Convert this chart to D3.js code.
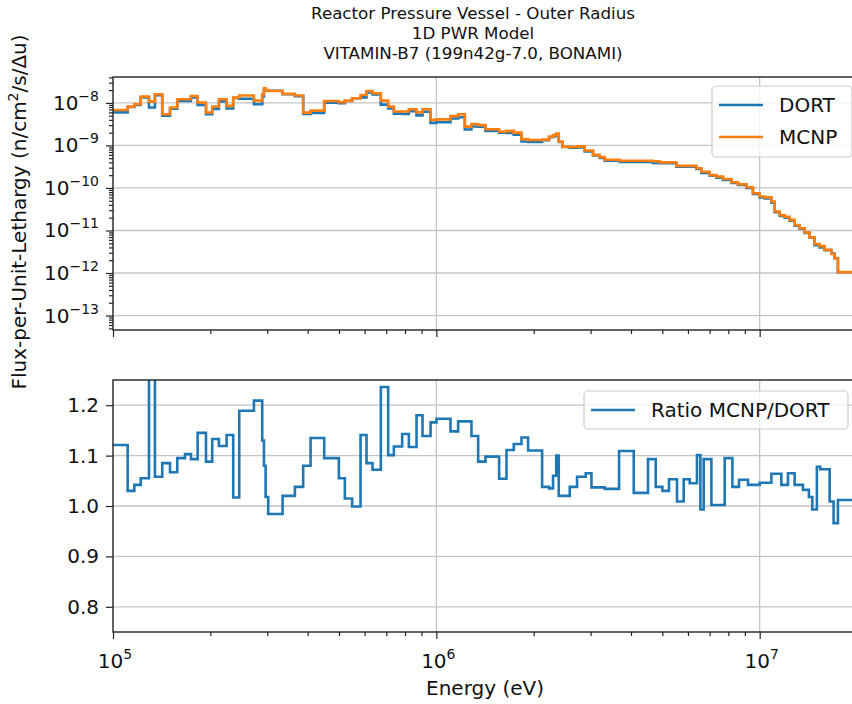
<!DOCTYPE html>
<html><head><meta charset="utf-8">
<script src="https://cdn.jsdelivr.net/npm/d3@7/dist/d3.min.js"></script>
<style>body{margin:0;background:#fff} text{font-family:"DejaVu Sans",sans-serif;fill:#111}</style>
</head><body><svg id="c" width="852" height="704"></svg>
<script>
// ---------------- data ----------------
const titleLines = ["Reactor Pressure Vessel - Outer Radius", "1D PWR Model", "VITAMIN-B7 (199n42g-7.0, BONAMI)"];
const yLabelMain = "Flux-per-Unit-Lethargy (n/cm";
const yLabelSup = "2";
const yLabelTail = "/s/\u0394u)";
const xLabel = "Energy (eV)";
const seriesNames = ["DORT", "MCNP"];
const ratioName = "Ratio MCNP/DORT";

const fluxEdges = [1.00e5, 1.110e5, 1.164e5, 1.218e5, 1.292e5, 1.348e5, 1.420e5, 1.501e5, 1.580e5, 1.670e5,
  1.742e5, 1.827e5, 1.939e5, 2.027e5, 2.126e5, 2.246e5, 2.354e5, 2.457e5, 2.728e5, 2.894e5,
  2.930e5, 2.965e5, 3.020e5, 3.346e5, 3.652e5, 3.874e5, 4.084e5, 4.500e5, 4.995e5, 5.213e5,
  5.491e5, 5.829e5, 6.083e5, 6.349e5, 6.735e5, 7.096e5, 7.390e5, 7.840e5, 8.222e5, 8.685e5,
  9.064e5, 9.597e5, 1.001e6, 1.106e6, 1.168e6, 1.225e6, 1.284e6, 1.347e6, 1.419e6, 1.564e6,
  1.648e6, 1.736e6, 1.834e6, 1.922e6, 2.124e6, 2.232e6, 2.296e6, 2.349e6, 2.391e6, 2.455e6,
  2.586e6, 2.724e6, 2.877e6, 3.052e6, 3.202e6, 3.318e6, 3.692e6, 4.669e6, 4.908e6, 5.526e6,
  6.372e6, 6.603e6, 7.005e6, 7.346e6, 7.702e6, 8.177e6, 8.570e6, 9.097e6, 9.535e6, 1.000e7,
  1.036e7, 1.087e7, 1.113e7, 1.153e7, 1.195e7, 1.238e7, 1.283e7, 1.329e7, 1.377e7, 1.427e7,
  1.479e7, 1.532e7, 1.588e7, 1.666e7, 1.705e7, 1.746e7, 2.0e7];

const mcnpFlux = [6.8e-9, 8.2e-9, 9.3e-9, 1.41e-8, 1.07e-8, 1.6e-8, 5.4e-9, 7.8e-9, 1.22e-8, 1.22e-8,
  1.46e-8, 1.02e-8, 5.9e-9, 8.2e-9, 1.22e-8, 8.5e-9, 1.33e-8, 1.49e-8, 1.13e-8, 1.6e-8,
  2.2e-8, 2.0e-8, 1.91e-8, 1.63e-8, 1.49e-8, 5.9e-9, 6.6e-9, 1.11e-8, 1.04e-8, 1.13e-8,
  1.29e-8, 1.54e-8, 1.91e-8, 1.69e-8, 1.13e-8, 8.2e-9, 6.3e-9, 6.3e-9, 7.1e-9, 6.0e-9,
  7.1e-9, 4.0e-9, 4.1e-9, 4.9e-9, 5.4e-9, 2.77e-9, 3.2e-9, 3.0e-9, 2.4e-9, 2.1e-9,
  2.2e-9, 2.0e-9, 1.41e-9, 1.34e-9, 1.37e-9, 1.61e-9, 1.75e-9, 1.9e-9, 1.23e-9, 9.4e-10,
  9.2e-10, 9.5e-10, 7.6e-10, 6.0e-10, 5.3e-10, 4.6e-10, 4.35e-10, 4.25e-10, 4.0e-10, 3.3e-10,
  2.9e-10, 2.4e-10, 2.0e-10, 1.85e-10, 1.63e-10, 1.36e-10, 1.22e-10, 1.04e-10, 7.5e-11, 6.3e-11,
  6.0e-11, 4.8e-11, 2.8e-11, 2.3e-11, 2.1e-11, 1.78e-11, 1.35e-11, 1.13e-11, 9.0e-12, 6.9e-12,
  4.8e-12, 4.3e-12, 3.5e-12, 2.8e-12, 2.2e-12, 1.05e-12];

const dortFlux = [6.0e-9, 8.0e-9, 8.9e-9, 1.34e-8, 7.8e-9, 1.51e-8, 5.0e-9, 7.3e-9, 1.11e-8, 1.11e-8,
  1.34e-8, 8.9e-9, 5.4e-9, 7.2e-9, 1.09e-8, 7.4e-9, 1.31e-8, 1.25e-8, 9.3e-9, 1.42e-8,
  2.04e-8, 1.96e-8, 1.94e-8, 1.60e-8, 1.44e-8, 5.5e-9, 5.8e-9, 1.01e-8, 9.9e-9, 1.11e-8,
  1.29e-8, 1.35e-8, 1.76e-8, 1.58e-8, 9.1e-9, 7.4e-9, 5.6e-9, 5.5e-9, 6.4e-9, 5.1e-9,
  6.2e-9, 3.4e-9, 3.5e-9, 4.3e-9, 4.6e-9, 2.37e-9, 2.8e-9, 2.76e-9, 2.19e-9, 1.99e-9,
  1.98e-9, 1.78e-9, 1.24e-9, 1.21e-9, 1.32e-9, 1.56e-9, 1.65e-9, 1.73e-9, 1.21e-9, 9.2e-10,
  8.9e-10, 9.0e-10, 7.2e-10, 5.8e-10, 5.1e-10, 4.4e-10, 4.1e-10, 3.9e-10, 3.8e-10, 3.15e-10,
  2.8e-10, 2.25e-10, 1.95e-10, 1.75e-10, 1.55e-10, 1.31e-10, 1.17e-10, 1.0e-10, 7.2e-11, 6.0e-11,
  5.7e-11, 4.5e-11, 2.7e-11, 2.2e-11, 2.0e-11, 1.7e-11, 1.29e-11, 1.1e-11, 8.8e-12, 6.8e-12,
  4.5e-12, 4.0e-12, 3.45e-12, 2.85e-12, 2.25e-12, 1.04e-12];

const ratioEdges = [1.00e5, 1.110e5, 1.164e5, 1.218e5, 1.292e5, 1.348e5, 1.420e5, 1.501e5, 1.580e5, 1.670e5,
  1.742e5, 1.827e5, 1.939e5, 2.027e5, 2.126e5, 2.246e5, 2.354e5, 2.457e5, 2.728e5, 2.894e5,
  2.930e5, 2.965e5, 3.020e5, 3.346e5, 3.652e5, 3.874e5, 4.084e5, 4.500e5, 4.995e5, 5.213e5,
  5.491e5, 5.829e5, 6.083e5, 6.349e5, 6.735e5, 7.096e5, 7.390e5, 7.840e5, 8.222e5, 8.685e5,
  9.064e5, 9.597e5, 1.001e6, 1.106e6, 1.168e6, 1.284e6, 1.347e6, 1.419e6, 1.564e6, 1.648e6,
  1.736e6, 1.834e6, 1.922e6, 2.124e6, 2.232e6, 2.296e6, 2.349e6, 2.391e6, 2.586e6, 2.724e6,
  2.898e6, 3.018e6, 3.318e6, 3.674e6, 4.079e6, 4.515e6, 4.770e6, 5.003e6, 5.243e6, 5.550e6,
  5.821e6, 6.075e6, 6.399e6, 6.556e6, 6.712e6, 7.090e6, 7.796e6, 8.235e6, 8.631e6, 9.201e6,
  1.000e7, 1.087e7, 1.167e7, 1.223e7, 1.283e7, 1.361e7, 1.420e7, 1.455e7, 1.503e7, 1.540e7,
  1.646e7, 1.693e7, 1.746e7, 2.0e7];

const ratioValues = [1.121, 1.030, 1.042, 1.055, 1.40, 1.058, 1.085, 1.067, 1.095, 1.103,
  1.093, 1.145, 1.088, 1.133, 1.119, 1.141, 1.017, 1.189, 1.209, 1.13,
  1.08, 1.018, 0.984, 1.020, 1.038, 1.080, 1.135, 1.095, 1.055, 1.015,
  0.999, 1.141, 1.085, 1.072, 1.236, 1.101, 1.118, 1.143, 1.117, 1.180,
  1.139, 1.166, 1.173, 1.148, 1.168, 1.139, 1.088, 1.098, 1.054, 1.111,
  1.123, 1.136, 1.110, 1.038, 1.035, 1.06, 1.10, 1.020, 1.038, 1.058,
  1.065, 1.037, 1.034, 1.109, 1.026, 1.093, 1.038, 1.030, 1.053, 1.009,
  1.053, 1.045, 1.101, 0.993, 1.093, 1.002, 1.095, 1.038, 1.052, 1.042,
  1.046, 1.064, 1.042, 1.065, 1.042, 1.032, 1.018, 0.993, 1.078, 1.073,
  1.009, 0.966, 1.012];

const xTickExponents = [5, 6, 7];
const fluxTickExponents = [-13, -12, -11, -10, -9, -8];
const ratioTicks = [0.8, 0.9, 1.0, 1.1, 1.2];
const energyDomain = [1e5, 2e7];
const fluxDomain = [4.57e-14, 4.07e-8];
const ratioDomain = [0.75, 1.25];

// ---------------- drawing ----------------
const C_BLUE = "#1f77b4", C_ORANGE = "#ff7f0e", C_GRID = "#c4c4c4";
const svg = d3.select("#c");
const L = 113, R = 857;
const TT = 77, TB = 330, BT = 380, BB = 632;
const x = d3.scaleLog().domain(energyDomain).range([L, R]);
const yF = d3.scaleLog().domain(fluxDomain).range([TB, TT]);
const yR = d3.scaleLinear().domain(ratioDomain).range([BB, BT]);

const defs = svg.append("defs");
defs.append("clipPath").attr("id", "clipT").append("rect").attr("x", L).attr("y", TT).attr("width", R - L).attr("height", TB - TT);
defs.append("clipPath").attr("id", "clipB").append("rect").attr("x", L).attr("y", BT).attr("width", R - L).attr("height", BB - BT);

function stepPts(edges, vals) {
  const p = vals.map((v, i) => [edges[i], v]);
  p.push([edges[edges.length - 1], vals[vals.length - 1]]);
  return p;
}
const majorX = xTickExponents.map(e => Math.pow(10, e));
const minorX = [];
for (let k = 5; k <= 7; k++) for (let m = 2; m <= 9; m++) { const v = m * Math.pow(10, k); if (v < energyDomain[1]) minorX.push(v); }
const majorYF = fluxTickExponents.map(e => Math.pow(10, e));
const minorYF = [];
for (let k = -14; k <= -8; k++) for (let m = 2; m <= 9; m++) { const v = m * Math.pow(10, k); if (v > fluxDomain[0] && v < fluxDomain[1]) minorYF.push(v); }

// grids
const gT = svg.append("g");
gT.selectAll("line.h").data(majorYF).join("line").attr("x1", L).attr("x2", R).attr("y1", d => yF(d)).attr("y2", d => yF(d)).attr("stroke", C_GRID).attr("stroke-width", 1.3);
gT.selectAll("line.v").data(majorX.slice(1)).join("line").attr("x1", d => x(d)).attr("x2", d => x(d)).attr("y1", TT).attr("y2", TB).attr("stroke", C_GRID).attr("stroke-width", 1.3);
const gB = svg.append("g");
gB.selectAll("line.h").data(ratioTicks).join("line").attr("x1", L).attr("x2", R).attr("y1", d => yR(d)).attr("y2", d => yR(d)).attr("stroke", C_GRID).attr("stroke-width", 1.3);
gB.selectAll("line.v").data(majorX.slice(1)).join("line").attr("x1", d => x(d)).attr("x2", d => x(d)).attr("y1", BT).attr("y2", BB).attr("stroke", C_GRID).attr("stroke-width", 1.3);

// lines
const lineF = d3.line().x(d => x(d[0])).y(d => yF(d[1])).curve(d3.curveStepAfter);
const lineR = d3.line().x(d => x(d[0])).y(d => yR(d[1])).curve(d3.curveStepAfter);
svg.append("path").attr("clip-path", "url(#clipT)").attr("d", lineF(stepPts(fluxEdges, dortFlux))).attr("fill", "none").attr("stroke", C_BLUE).attr("stroke-width", 2.6).attr("stroke-linejoin", "miter");
svg.append("path").attr("clip-path", "url(#clipT)").attr("d", lineF(stepPts(fluxEdges, mcnpFlux))).attr("fill", "none").attr("stroke", C_ORANGE).attr("stroke-width", 2.6).attr("stroke-linejoin", "miter");
svg.append("path").attr("clip-path", "url(#clipB)").attr("d", lineR(stepPts(ratioEdges, ratioValues))).attr("fill", "none").attr("stroke", C_BLUE).attr("stroke-width", 2.6).attr("stroke-linejoin", "miter");

// axes (ticks)
function styleAxis(g) { g.select(".domain").remove(); g.selectAll(".tick line").attr("stroke", "#222").attr("stroke-width", 1.2); g.selectAll(".tick text").remove(); }
svg.append("g").attr("transform", `translate(0,${TB})`).call(d3.axisBottom(x).tickValues(majorX).tickSize(7).tickFormat("")).call(styleAxis);
svg.append("g").attr("transform", `translate(0,${TB})`).call(d3.axisBottom(x).tickValues(minorX).tickSize(4).tickFormat("")).call(styleAxis);
svg.append("g").attr("transform", `translate(0,${BB})`).call(d3.axisBottom(x).tickValues(majorX).tickSize(7).tickFormat("")).call(styleAxis);
svg.append("g").attr("transform", `translate(0,${BB})`).call(d3.axisBottom(x).tickValues(minorX).tickSize(4).tickFormat("")).call(styleAxis);
svg.append("g").attr("transform", `translate(${L},0)`).call(d3.axisLeft(yF).tickValues(majorYF).tickSize(7).tickFormat("")).call(styleAxis);
svg.append("g").attr("transform", `translate(${L},0)`).call(d3.axisLeft(yF).tickValues(minorYF).tickSize(4).tickFormat("")).call(styleAxis);
svg.append("g").attr("transform", `translate(${L},0)`).call(d3.axisLeft(yR).tickValues(ratioTicks).tickSize(7).tickFormat("")).call(styleAxis);

// spines
[[TT, TB], [BT, BB]].forEach(([t, b]) => {
  svg.append("rect").attr("x", L).attr("y", t).attr("width", R - L).attr("height", b - t).attr("fill", "none").attr("stroke", "#222").attr("stroke-width", 1.4);
});

// tick labels
const FS = 20;
fluxTickExponents.forEach(e => {
  const t = svg.append("text").attr("x", 99).attr("y", yF(Math.pow(10, e)) + 7).attr("text-anchor", "end").attr("font-size", FS);
  t.append("tspan").text("10");
  t.append("tspan").attr("font-size", 14).attr("dy", -9).text("\u2212" + Math.abs(e));
});
ratioTicks.forEach(v => {
  svg.append("text").attr("x", 99).attr("y", yR(v) + 7).attr("text-anchor", "end").attr("font-size", FS).text(v.toFixed(1));
});
xTickExponents.forEach(e => {
  const t = svg.append("text").attr("x", x(Math.pow(10, e)) + 2).attr("y", 668).attr("text-anchor", "middle").attr("font-size", FS);
  t.append("tspan").text("10");
  t.append("tspan").attr("font-size", 14).attr("dy", -9).text(String(e));
});

// titles and labels
titleLines.forEach((s, i) => svg.append("text").attr("x", 473).attr("y", 19 + i * 20).attr("text-anchor", "middle").attr("font-size", 16.7).text(s));
svg.append("text").attr("x", 485).attr("y", 695).attr("text-anchor", "middle").attr("font-size", FS).text(xLabel);
const yl = svg.append("text").attr("transform", "translate(26,212) rotate(-90)").attr("text-anchor", "middle").attr("font-size", FS);
yl.append("tspan").text(yLabelMain);
yl.append("tspan").attr("font-size", 14).attr("dy", -8).text(yLabelSup);
yl.append("tspan").attr("dy", 8).text(yLabelTail);

// legends
function legend(x0, y0, w, h, items) {
  const g = svg.append("g");
  g.append("rect").attr("x", x0).attr("y", y0).attr("width", w).attr("height", h).attr("rx", 4).attr("fill", "white").attr("fill-opacity", 0.8).attr("stroke", "#cccccc").attr("stroke-width", 1.2);
  items.forEach((it, i) => {
    const yy = y0 + 19 + i * 32;
    g.append("line").attr("x1", x0 + 7).attr("x2", x0 + 51).attr("y1", yy).attr("y2", yy).attr("stroke", it.c).attr("stroke-width", 2.6);
    g.append("text").attr("x", x0 + 67).attr("y", yy + 7).attr("font-size", FS).text(it.n);
  });
}
legend(712, 86, 140, 71, [{ n: seriesNames[0], c: C_BLUE }, { n: seriesNames[1], c: C_ORANGE }]);
legend(584, 391, 264, 38, [{ n: ratioName, c: C_BLUE }]);
</script></body></html>
